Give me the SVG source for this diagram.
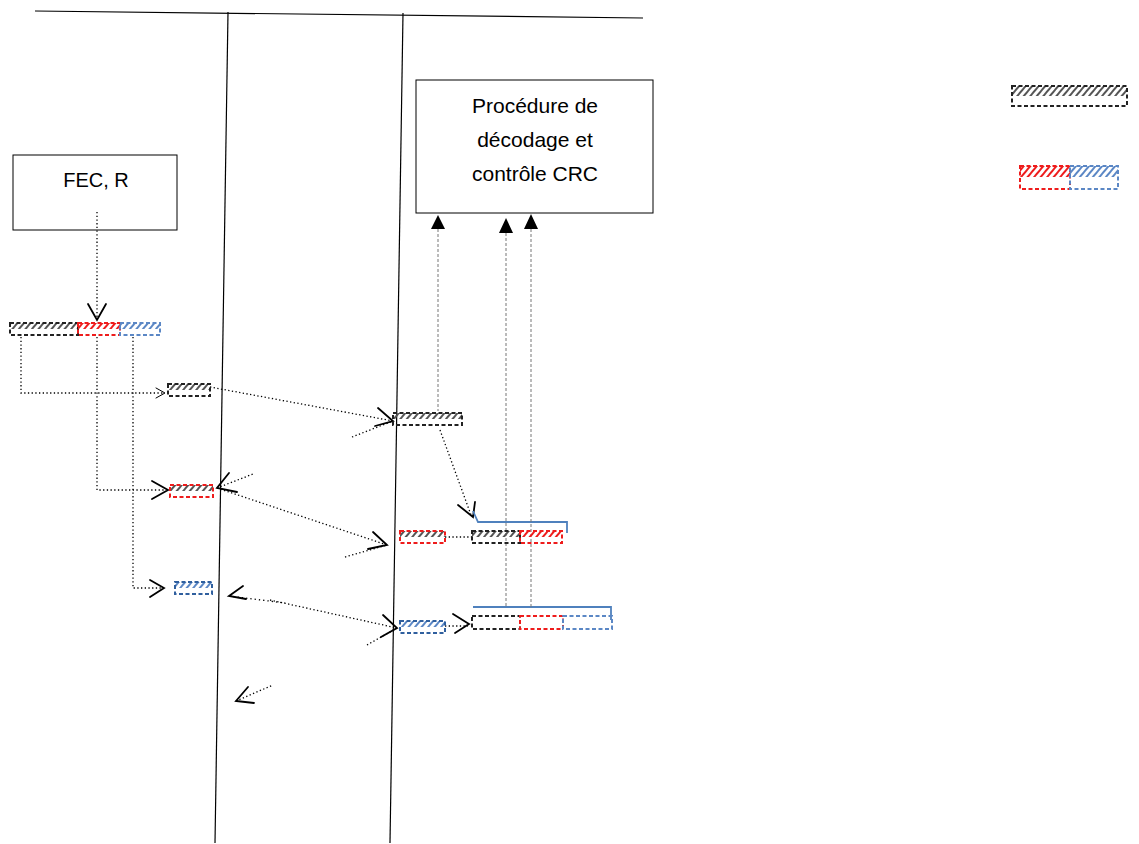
<svg xmlns="http://www.w3.org/2000/svg" width="1139" height="844" viewBox="0 0 1139 844">
<defs>
<style>
.ln{stroke:#000;stroke-width:1.2;fill:none}
.box{fill:#fff;stroke:#000;stroke-width:1}
.txt{font-family:"Liberation Sans",Arial,sans-serif;fill:#000;text-anchor:middle}
.dot{stroke:#000;stroke-width:1.3;stroke-dasharray:1.3 2.4;fill:none}
.dash{stroke:#777;stroke-width:1;stroke-dasharray:3 2;fill:none}
.open{stroke:#000;stroke-width:1.8;fill:none;stroke-linecap:round;stroke-linejoin:miter}
.tri{fill:#000}
.brk{stroke:#4f81bd;stroke-width:1.8;fill:none}
.bk{stroke:#222;stroke-width:2;stroke-dasharray:4 2.5}
.rd{stroke:#ee1c1c;stroke-width:2;stroke-dasharray:4 2.5}
.bl{stroke:#5b87c5;stroke-width:2;stroke-dasharray:4 2.5}
</style>
<pattern id="hk" width="5" height="5" patternUnits="userSpaceOnUse" patternTransform="rotate(40)"><rect width="2" height="5" fill="#555"/></pattern>
<pattern id="hr" width="5" height="5" patternUnits="userSpaceOnUse" patternTransform="rotate(40)"><rect width="2" height="5" fill="#ee1c1c"/></pattern>
<pattern id="hb" width="5" height="5" patternUnits="userSpaceOnUse" patternTransform="rotate(40)"><rect width="2" height="5" fill="#5b87c5"/></pattern>
</defs>
<rect width="1139" height="844" fill="#fff"/>

<g id="axes">
<line class="ln" x1="35" y1="11" x2="643" y2="18"/>
<line class="ln" x1="228" y1="12" x2="215" y2="843"/>
<line class="ln" x1="403" y1="13" x2="390" y2="843"/>
</g>

<g id="node-fec">
<rect class="box" x="13" y="155" width="164" height="75"/>
<text class="txt" x="96" y="187" font-size="20">FEC, R</text>
</g>

<g id="node-proc">
<rect class="box" x="416" y="80" width="237" height="133"/>
<text class="txt" x="535" y="113" font-size="21">Procédure de</text>
<text class="txt" x="535" y="147" font-size="21">décodage et</text>
<text class="txt" x="535" y="181" font-size="21">contrôle CRC</text>
</g>

<g id="connectors">
<line class="dot" x1="97" y1="212" x2="97" y2="320"/>
<polyline class="open" points="88,304 97,320 106,304"/>
<polyline class="dot" points="21,337 21,393 163,393"/>
<polyline class="open" points="156,388 165,393 156,398" style="stroke-width:1"/>
<polyline class="dot" points="97,337 97,490 165,490"/>
<polyline class="open" points="152,481 168,490 152,499"/>
<polyline class="dot" points="133,337 133,588 162,588"/>
<polyline class="open" points="150,580 164,588 150,597"/>
<line class="dot" x1="210" y1="387" x2="393" y2="421"/>
<line class="dot" x1="352" y1="437" x2="393" y2="421"/>
<polyline class="open" points="378,408 393,421 375,426"/>
<line class="dot" x1="217" y1="488" x2="253" y2="474"/>
<polyline class="open" points="229,473 217,488 237,492"/>
<line class="dot" x1="217" y1="488" x2="387" y2="545"/>
<line class="dot" x1="345" y1="557" x2="387" y2="545"/>
<polyline class="open" points="373,532 387,545 368,549"/>
<line class="dot" x1="229" y1="596" x2="285" y2="603" style="stroke-dasharray:1.3 3"/>
<polyline class="open" points="243,586 229,596 246,599"/>
<line class="dot" x1="270" y1="600" x2="397" y2="628"/>
<line class="dot" x1="367" y1="645" x2="397" y2="628"/>
<polyline class="open" points="383,615 397,628 381,637"/>
<line class="dot" x1="236" y1="701" x2="273" y2="685"/>
<polyline class="open" points="248,687 236,701 254,703"/>
<line class="dot" x1="440" y1="430" x2="471" y2="515"/>
<polyline class="open" points="458,505 473,517 475,502"/>
<line class="dot" x1="445" y1="537" x2="472" y2="537"/>
<line class="dot" x1="445" y1="626" x2="468" y2="626"/>
<polyline class="open" points="453,614 469,624 455,633"/>
<polyline class="brk" points="473,511 478,522 567,522 567,533"/>
<polyline class="brk" points="473,607 611,607 611,620"/>
<line class="dash" x1="438" y1="229" x2="438" y2="411"/>
<polygon class="tri" points="438,215 431,229 445,229"/>
<line class="dash" x1="506" y1="233" x2="506" y2="607"/>
<polygon class="tri" points="506,218 499,233 513,233"/>
<line class="dash" x1="531" y1="229" x2="531" y2="607"/>
<polygon class="tri" points="531,214 524,229 538,229"/>
</g>

<g id="block1">
<rect x="10" y="323" width="68" height="6" fill="url(#hk)"/><rect class="bk" x="10" y="323" width="68" height="12" fill="none"/>
<rect x="78" y="323" width="42" height="6" fill="url(#hr)"/><rect class="rd" x="78" y="323" width="42" height="12" fill="none"/>
<rect x="120" y="323" width="40" height="6" fill="url(#hb)"/><rect class="bl" x="120" y="323" width="40" height="12" fill="none"/>
</g>
<g id="block2">
<rect x="168" y="384" width="42" height="6" fill="url(#hk)"/><rect class="bk" x="168" y="384" width="42" height="12" fill="none"/>
</g>
<g id="block3">
<rect x="170" y="485" width="43" height="6" fill="url(#hk)"/><rect class="rd" x="170" y="485" width="43" height="12" fill="none"/>
</g>
<g id="block4">
<rect x="175" y="582" width="37" height="6" fill="url(#hb)"/><rect class="bl" x="175" y="582" width="37" height="12" fill="none" style="stroke:#2f5f9e"/>
</g>
<g id="block5">
<rect x="393" y="413" width="69" height="6" fill="url(#hk)"/><rect class="bk" x="393" y="413" width="69" height="12" fill="none"/>
</g>
<g id="block6">
<rect x="400" y="531" width="45" height="6" fill="url(#hk)"/><rect class="rd" x="400" y="531" width="45" height="12" fill="none"/>
</g>
<g id="block7">
<rect x="472" y="531" width="48" height="6" fill="url(#hk)"/><rect class="bk" x="472" y="531" width="48" height="12" fill="none"/>
<rect x="520" y="531" width="42" height="6" fill="url(#hr)"/><rect class="rd" x="520" y="531" width="42" height="12" fill="none"/>
</g>
<g id="block8">
<rect x="400" y="621" width="45" height="6" fill="url(#hb)"/><rect class="bl" x="400" y="621" width="45" height="12" fill="none" style="stroke:#2f5f9e"/>
</g>
<g id="block9">
<rect class="bk" x="472" y="616" width="48" height="13" fill="none"/>
<rect class="rd" x="520" y="616" width="43" height="13" fill="none"/>
<rect class="bl" x="563" y="616" width="49" height="13" fill="none"/>
</g>
<g id="legend1">
<rect x="1012" y="86" width="115" height="10" fill="url(#hk)"/><rect class="bk" x="1012" y="86" width="115" height="20" fill="none"/>
</g>
<g id="legend2">
<rect x="1020" y="166" width="50" height="11" fill="url(#hr)"/><rect class="rd" x="1020" y="166" width="50" height="23" fill="none"/>
<rect x="1070" y="166" width="48" height="11" fill="url(#hb)"/><rect class="bl" x="1070" y="166" width="48" height="23" fill="none"/>
</g>
</svg>
